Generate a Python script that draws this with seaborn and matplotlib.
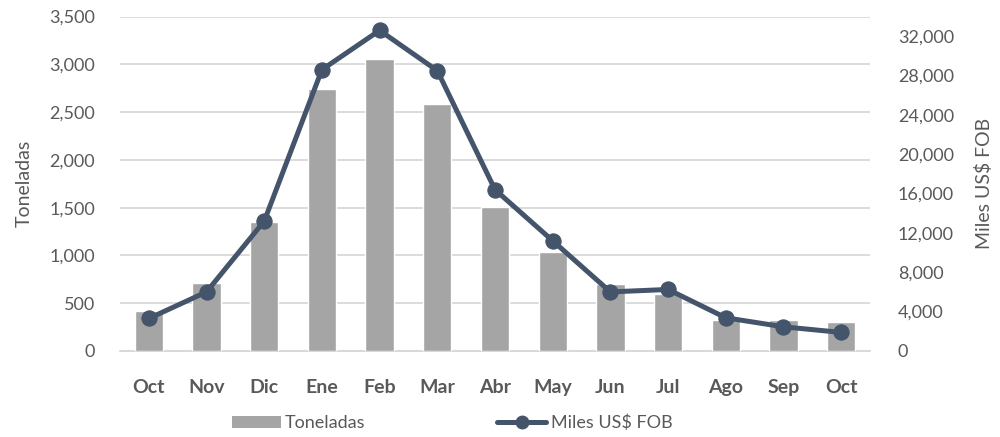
import matplotlib
matplotlib.use("Agg")
import matplotlib.pyplot as plt
import seaborn as sns
import pandas as pd
from matplotlib.ticker import FuncFormatter, MultipleLocator
from matplotlib.patches import Patch
from matplotlib.lines import Line2D

months = ["Oct", "Nov", "Dic", "Ene", "Feb", "Mar", "Abr", "May", "Jun", "Jul", "Ago", "Sep", "Oct"]
toneladas = [420, 706, 1345, 2742, 3056, 2588, 1503, 1038, 701, 600, 326, 322, 305]
miles_fob = [3300, 6000, 13200, 28600, 32600, 28500, 16400, 11200, 6000, 6250, 3370, 2450, 1880]

sns.set_theme(style="white")
plt.rcParams['font.family'] = ['Lato', 'DejaVu Sans']

df = pd.DataFrame({"pos": list(range(len(months))), "Toneladas": toneladas, "Miles": miles_fob})

bar_color = "#A5A5A5"
line_color = "#44546A"
grid_color = "#D9D9D9"
text_color = "#595959"

fig = plt.figure(figsize=(10, 4.37), dpi=100)
ax = fig.add_axes([0.12, 0.197, 0.75, 0.765])
ax2 = ax.twinx()

sns.barplot(data=df, x="pos", y="Toneladas", color=bar_color, width=0.49,
            saturation=1, ax=ax, zorder=2)
ax.set_ylim(0, 3500)
ax.yaxis.set_major_locator(MultipleLocator(500))
ax.yaxis.set_major_formatter(FuncFormatter(lambda v, p: f"{int(v):,}"))
ax.grid(axis="y", color=grid_color, linewidth=1.3, zorder=0)
ax.set_axisbelow(True)
ax.axhline(0, color=grid_color, linewidth=1.5, clip_on=False, zorder=1)

sns.lineplot(data=df, x="pos", y="Miles", color=line_color, linewidth=3.6,
             marker="o", markersize=11, markeredgecolor=line_color, ax=ax2, zorder=3)
ax2.set_ylim(0, 34000)
ax2.set_yticks(list(range(0, 32001, 4000)))
ax2.yaxis.set_major_formatter(FuncFormatter(lambda v, p: f"{int(v):,}"))

ax.set_xlim(-0.5, len(months) - 0.5)
ax.set_xticks(range(len(months)))
ax.set_xticklabels(months, fontsize=14, fontweight="bold", color=text_color)
ax.set_xlabel("")
ax.set_ylabel("Toneladas", fontsize=14, color=text_color, labelpad=12)
ax2.set_ylabel("Miles US$ FOB", fontsize=14, color=text_color, labelpad=15)

for a in (ax, ax2):
    for s in ["top", "left", "right", "bottom"]:
        a.spines[s].set_visible(False)
    a.tick_params(axis="y", length=0, labelsize=13, labelcolor=text_color)
ax.tick_params(axis="y", pad=18)
ax2.tick_params(axis="y", pad=20)
ax.tick_params(axis="x", length=0, pad=20)

handles = [Patch(facecolor=bar_color, edgecolor="none"),
           Line2D([0], [0], color=line_color, linewidth=3.6, marker="o", markersize=9)]
fig.legend(handles, ["Toneladas", "Miles US$ FOB"], loc="center", bbox_to_anchor=(0.452, 0.032),
           ncol=2, frameon=False, fontsize=13, labelcolor=text_color,
           columnspacing=7.3, handlelength=2.7, handletextpad=0.25)

fig.savefig("out.png", dpi=100)
